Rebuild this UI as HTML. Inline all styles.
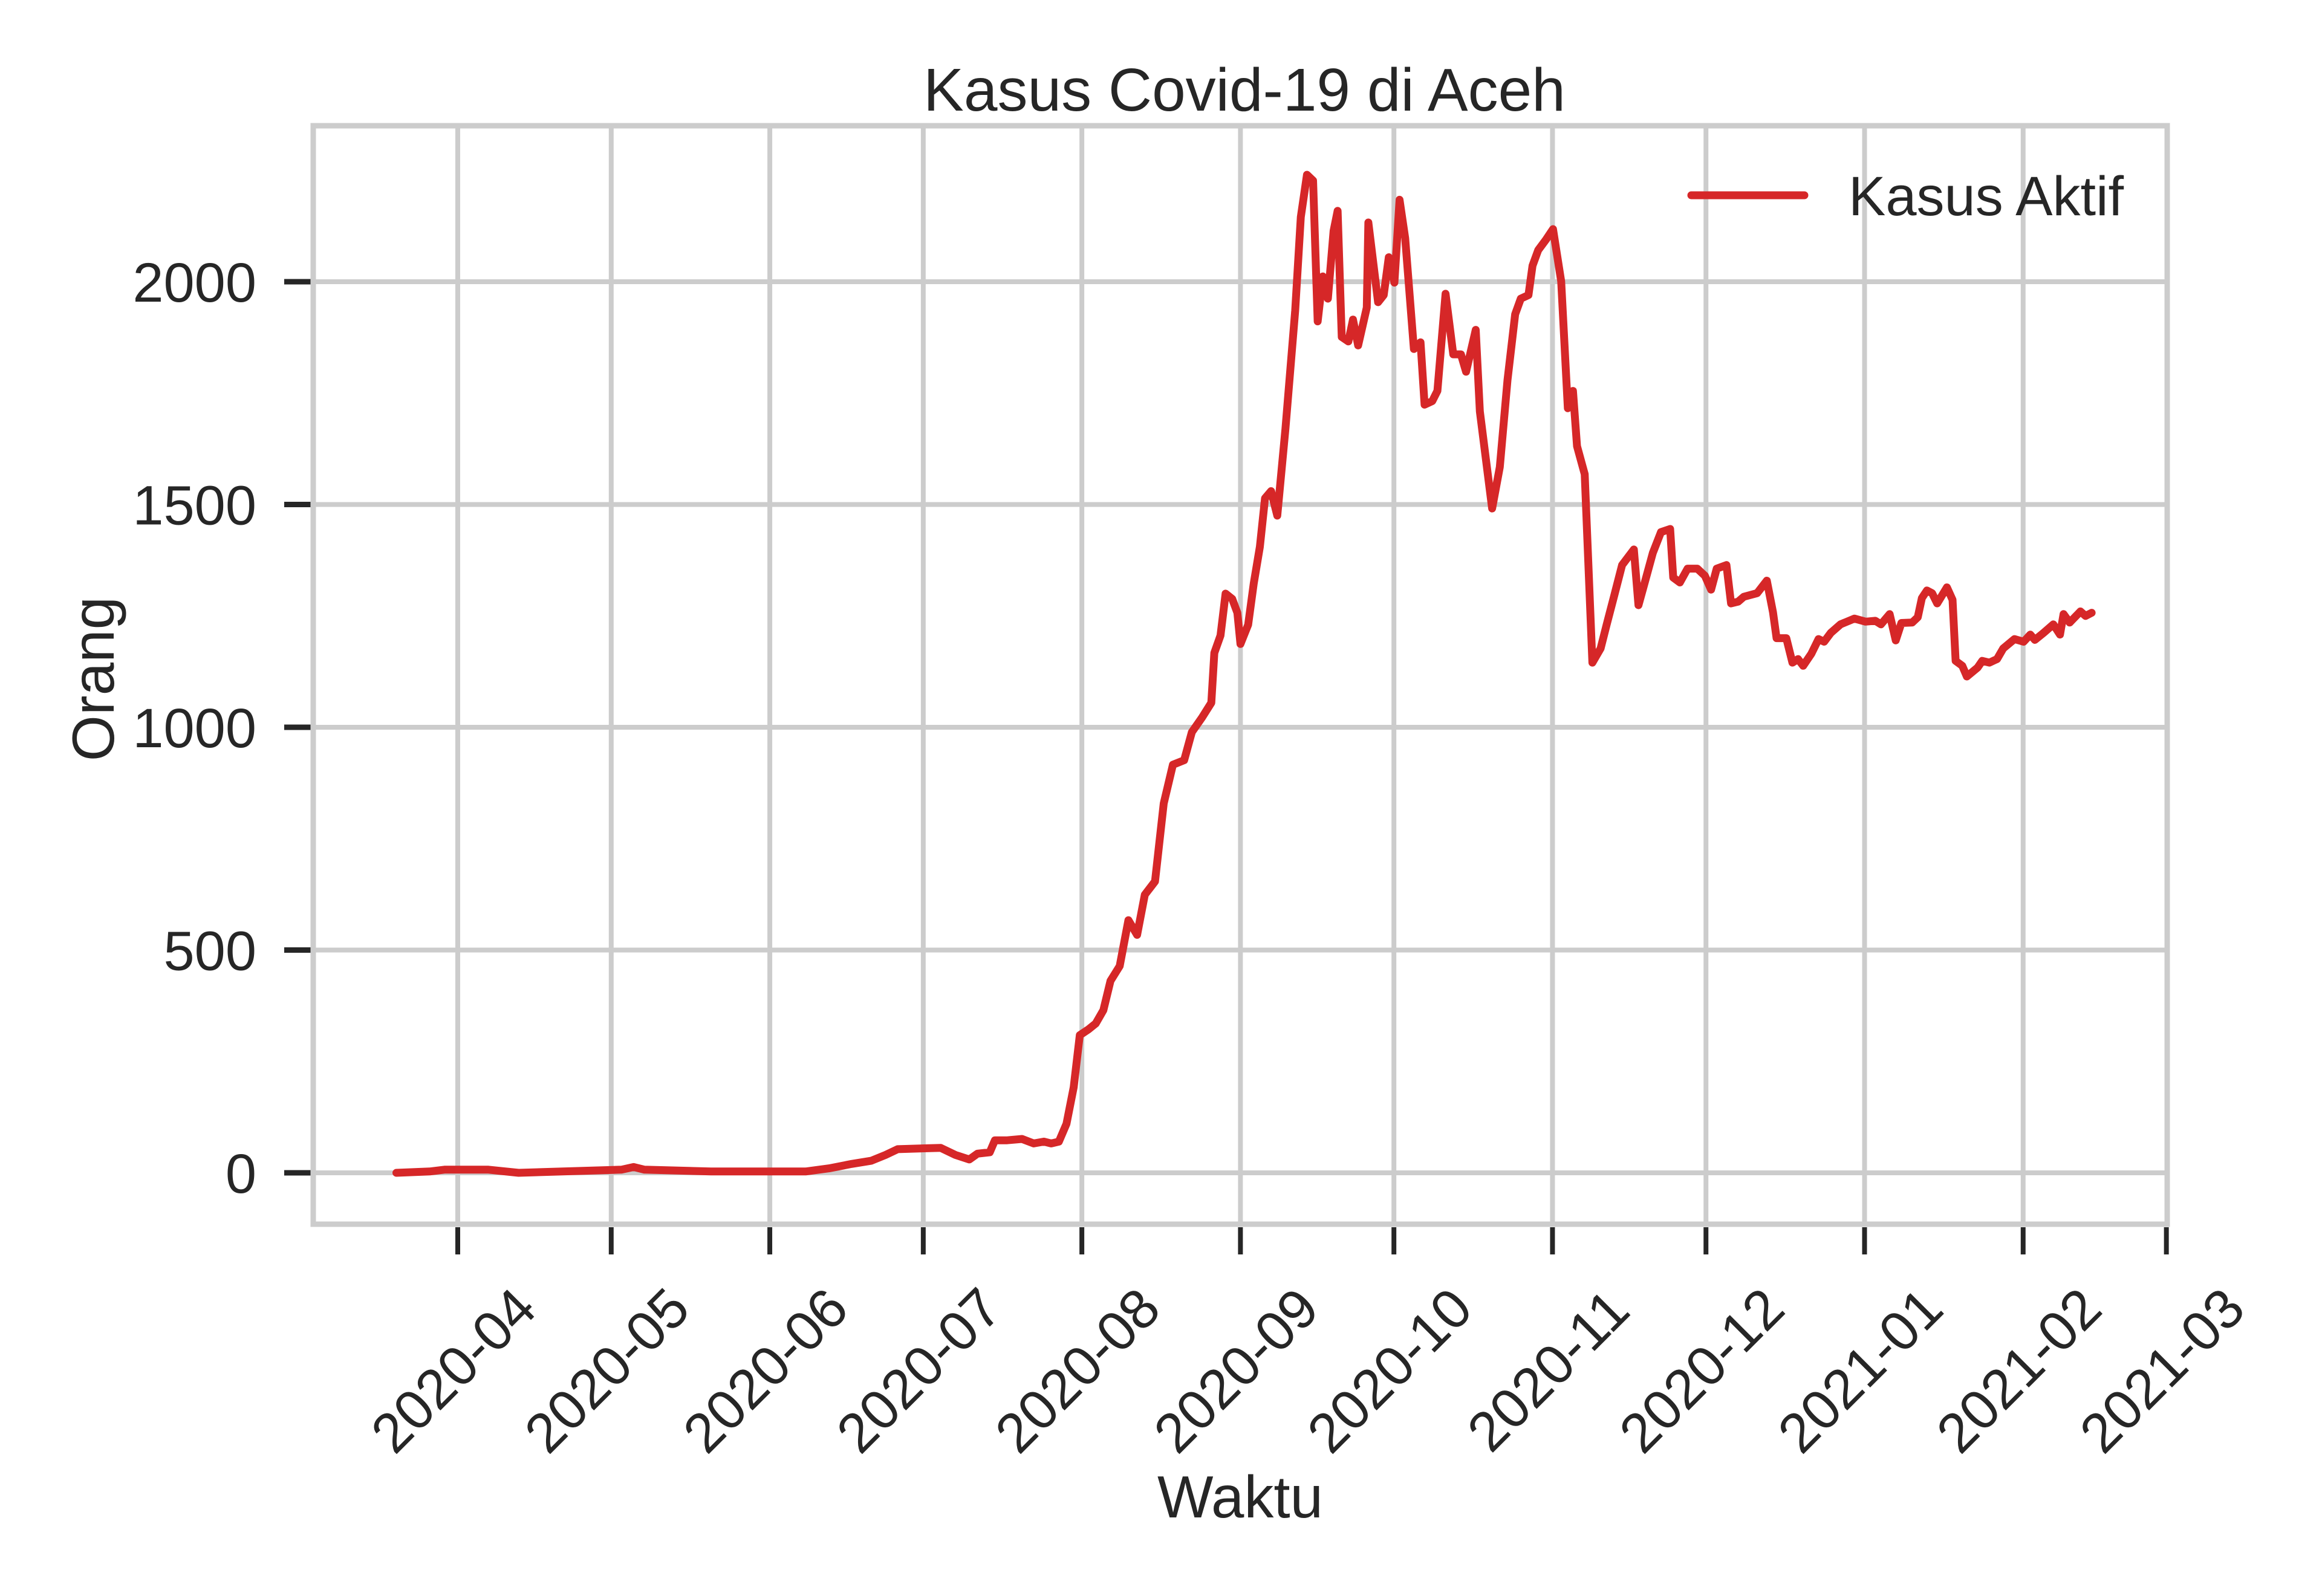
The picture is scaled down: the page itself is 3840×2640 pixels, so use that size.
<!DOCTYPE html>
<html><head><meta charset="utf-8"><style>
html,body{margin:0;padding:0;background:#fff;}
svg{display:block;font-family:"Liberation Sans",Arial,sans-serif;}
</style></head><body>
<svg id="chart" width="3840" height="2640" viewBox="0 0 3840 2640" xmlns="http://www.w3.org/2000/svg">
<rect x="0" y="0" width="3840" height="2640" fill="#ffffff"/>
<g id="grid"></g>
<g id="axes"></g>
<g id="series"></g>
<text x="2058" y="183" font-size="100" fill="#262626" text-anchor="middle">Kasus Covid-19 di Aceh</text>
<text x="2051" y="2510" font-size="98" fill="#262626" text-anchor="middle">Waktu</text>
<text transform="translate(188,1123) rotate(-90)" font-size="98" fill="#262626" text-anchor="middle">Orang</text>
<g>
<line x1="2797" y1="323" x2="2984" y2="323" stroke="#d62728" stroke-width="13" stroke-linecap="round"/>
<text x="3057" y="356" font-size="92" fill="#262626">Kasus Aktif</text>
</g>
</svg>
<script>
// days since 2020-04-01
const dayOffsets = [-12,-5.5,-2.6,6,11.9,32,34.4,36.5,49.5,61,68,72.6,77,80.8,83.6,86,94.4,97.3,100,101.6,104,105,107.4,110.3,112.6,114.6,116,117.5,119,120.4,121.6,123.3,124.7,126.2,127.6,129.4,131.1,132.8,134.3,136.3,138,139.8,142,143.5,145.5,147.3,
147.9,149.1,150.1,151.4,152.4,153,154.5,155.6,156.8,157.8,159,160.2,161.8,163.7,164.8,166,167.2,168.1,169.1,170.1,171.2,172,172.8,174.1,175,176,177.7,178,179.9,181,182,183.1,184.1,185.2,186.9,188.2,189,190.5,191.5,193.1,194.6,196.1,197.1,199,199.8,202.2,203.7,205.2,206.7,207.8,209.3,210.1,211.2,212.7,214.1,215.7,217,218,218.8,220.3,
221.8,223.4,224.6,226.1,227.6,229.9,230.8,232.1,233.6,235.2,237,237.6,238.9,240.4,242.3,243.8,245,246.1,248,248.9,250.3,251.4,254,255.9,257.1,257.8,259.7,260.9,262,263,264.6,266,267.1,268.4,270.3,273,275.2,277.1,278.2,279.9,281.1,282.2,284.3,285.4,286.2,287.2,288.2,289.2,291.1,292.2,292.8,294.1,295,297.1,298,299.4,300.9,302.1,304.3,306.1,307.4,308.3,310,311.9,313.2,313.9,315.1,317.2,318.2,319.4];
const activeCases = [0,3,7,7,0,7,13,7,3,3,3,10,20,27,40,53,56,40,30,43,46,73,73,76,66,70,66,70,110,192,309,322,335,365,431,464,567,534,624,654,829,916,926,989,1022,1055,
1167,1206,1300,1288,1257,1187,1230,1323,1405,1514,1530,1475,1670,1935,2145,2240,2227,1911,2012,1962,2114,2159,1876,1866,1915,1857,1942,2133,1954,1970,2055,1998,2184,2098,1849,1864,1724,1732,1755,1973,1837,1837,1798,1892,1709,1491,1584,1779,1927,1962,1970,2036,2071,2094,2118,2001,1716,1755,1631,1568,
1145,1177,1231,1297,1364,1399,1274,1328,1391,1438,1445,1336,1325,1356,1356,1340,1309,1356,1364,1278,1282,1293,1301,1329,1258,1200,1200,1145,1153,1138,1165,1198,1192,1212,1231,1244,1237,1239,1231,1254,1195,1234,1235,1247,1290,1307,1301,1278,1314,1286,1149,1138,1114,1134,1149,1145,1153,1177,1198,1192,1208,1196,1212,1231,1208,1254,1235,1260,1250,1257];
const xTickLabels = ["2020-04","2020-05","2020-06","2020-07","2020-08","2020-09","2020-10","2020-11","2020-12","2021-01","2021-02","2021-03"];
const xTickDays = [0,30,61,91,122,153,183,214,244,275,306,334];
const yTickValues = [0,500,1000,1500,2000];

const NS = "http://www.w3.org/2000/svg";
const L = 518, R = 3584, T = 208, B = 2025;
function xScale(d){ return 757 + d * 8.46; }
function yScale(v){ return 1940 - v * (1474 / 2000); }
function mk(tag, attrs, parent){ const e = document.createElementNS(NS, tag); for (const k in attrs) e.setAttribute(k, attrs[k]); parent.appendChild(e); return e; }
const grid = document.getElementById('grid'), axes = document.getElementById('axes'), series = document.getElementById('series');

xTickDays.forEach((d, i) => {
  const x = xScale(d);
  if (x < R - 4) {
    const g = mk('line', {x1: x, y1: T, x2: x, y2: B, stroke: '#cccccc', 'stroke-width': 8}, grid);
    
    
  }
  const t = mk('line', {x1: x, y1: B + 5, x2: x, y2: B + 50, stroke: '#262626', 'stroke-width': 8}, axes);
  
  
  const lb = mk('text', {transform: `translate(${x - 2},2272) rotate(-45)`, 'font-size': 92, fill: '#262626', 'text-anchor': 'middle', 'dominant-baseline': 'middle'}, axes);
  lb.textContent = xTickLabels[i];
  
  
});
yTickValues.forEach(v => {
  const y = yScale(v);
  const g = mk('line', {x1: L, y1: y, x2: R, y2: y, stroke: '#cccccc', 'stroke-width': 8}, grid);
  
  
  const t = mk('line', {x1: 470, y1: y, x2: L - 4, y2: y, stroke: '#262626', 'stroke-width': 9}, axes);
  
  
  const lb = mk('text', {x: 424, y: y + 33, 'font-size': 92, fill: '#262626', 'text-anchor': 'end'}, axes);
  lb.textContent = String(v);
  
  
});
const frame = mk('rect', {x: L, y: T, width: R - L, height: B - T, fill: 'none', stroke: '#cccccc', 'stroke-width': 9}, axes);



const pts = dayOffsets.map((d, i) => xScale(d).toFixed(1) + ',' + yScale(activeCases[i]).toFixed(1)).join(' ');
const line = mk('polyline', {points: pts, fill: 'none', stroke: '#d62728', 'stroke-width': 13, 'stroke-linejoin': 'round', 'stroke-linecap': 'round'}, series);


</script>
</body></html>
